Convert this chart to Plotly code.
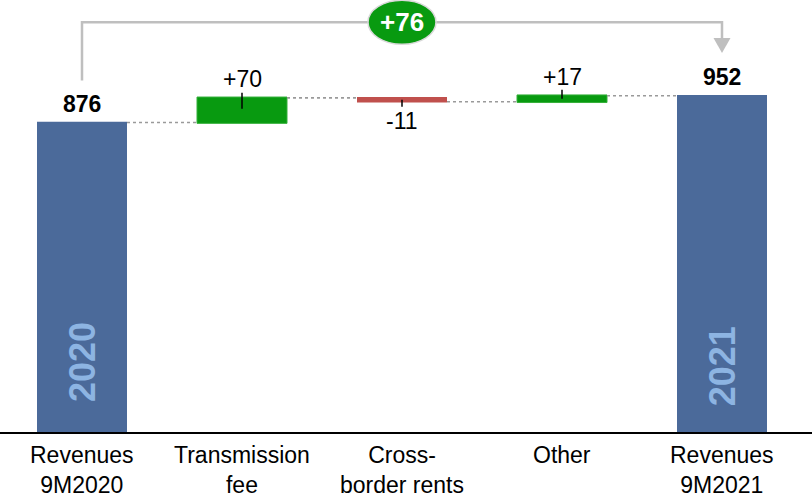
import plotly.graph_objects as go

# Revenue bridge, 9M2020 -> 9M2021
categories = ["Revenues<br>9M2020", "Transmission<br>fee", "Cross-<br>border rents", "Other", "Revenues<br>9M2021"]
measures = ["absolute", "relative", "relative", "relative", "total"]
values = [876, 70, -11, 17, 952]
year_labels = ["2020", "2021"]

FONT = "Liberation Sans, Arial, sans-serif"
BLUE = "#4B6A9A"
GREEN = "#089A10"
RED = "#C0504D"
GRAY = "#BFBFBF"

x_idx = list(range(len(categories)))

fig = go.Figure()
fig.add_trace(go.Waterfall(
    x=x_idx,
    y=values,
    measure=measures,
    width=0.5625,
    increasing=dict(marker=dict(color=GREEN, line=dict(color="#35B03A", width=1))),
    decreasing=dict(marker=dict(color=RED, line=dict(color=RED, width=0))),
    totals=dict(marker=dict(color=BLUE, line=dict(color=BLUE, width=0))),
    connector=dict(mode="between", line=dict(color="#9A9A9A", width=1.6, dash="dot")),
    hoverinfo="skip",
    showlegend=False,
))

# running totals for label placement
ends, starts = [], []
running = 0
for m, v in zip(measures, values):
    if m == "absolute":
        starts.append(0); running = v; ends.append(v)
    elif m == "total":
        starts.append(0); ends.append(running)
    else:
        starts.append(running); running += v; ends.append(running)

annotations = []
shapes = []

# value labels and small tick marks
tick_offsets = {1: (5, -11), 2: (2, -5), 3: (6, -3)}
for i, (m, v) in enumerate(zip(measures, values)):
    top = max(starts[i], ends[i])
    bottom = min(starts[i], ends[i])
    if m in ("absolute", "total"):
        annotations.append(dict(x=i, y=ends[i], text=f"{ends[i]}", showarrow=False,
                                yshift=19, yanchor="middle",
                                font=dict(family=FONT, size=23, color="black", weight=700)))
    else:
        label = f"{v:+d}"
        if v >= 0:
            anchor, shift = top, 19
        else:
            anchor, shift = bottom, -19
        annotations.append(dict(x=i, y=anchor, text=label, showarrow=False,
                                yshift=shift, yanchor="middle",
                                font=dict(family=FONT, size=23, color="black")))
        a, b = tick_offsets[i]
        shapes.append(dict(type="line", xref="x", yref="y", x0=i, x1=i,
                           ysizemode="pixel", yanchor=anchor, y0=a, y1=b,
                           line=dict(color="black", width=1.5)))

# year labels inside the total bars
for i, txt, yv in [(0, year_labels[0], 198), (4, year_labels[1], 186)]:
    annotations.append(dict(x=i, y=yv, text=txt, showarrow=False, textangle=-90,
                            font=dict(family=FONT, size=36, color="#8DB4E2", weight=800)))

# category labels under the axis
for i, c in enumerate(categories):
    annotations.append(dict(x=i, y=0, yref="paper", text=c, showarrow=False,
                            yanchor="top", yshift=-8,
                            font=dict(family=FONT, size=23, color="black")))

# bracket with total change
bracket_y = 1160
shapes.append(dict(type="path", xref="x", yref="y",
                   path=f"M 0,{ends[0] + 119} L 0,{bracket_y} L 4,{bracket_y} L 4,1115",
                   line=dict(color=GRAY, width=2.5)))
shapes.append(dict(type="path", xref="x", yref="y", xsizemode="pixel", ysizemode="pixel",
                   xanchor=4, yanchor=1073, path="M -8.5,15 L 8.5,15 L 0,0 Z",
                   fillcolor=GRAY, line=dict(color=GRAY, width=0)))
shapes.append(dict(type="circle", xref="x", yref="y", xsizemode="pixel", ysizemode="pixel",
                   xanchor=2, yanchor=bracket_y, x0=-34, x1=34, y0=-22, y1=22,
                   fillcolor=GREEN, line=dict(color="#D9D9D9", width=1.5)))
delta = ends[-1] - ends[0]
annotations.append(dict(x=2, y=bracket_y, text=f"{delta:+d}", showarrow=False,
                        font=dict(family=FONT, size=26, color="white", weight=700)))

fig.update_layout(
    width=812, height=498,
    margin=dict(l=0, r=0, t=0, b=66),
    paper_bgcolor="white", plot_bgcolor="white",
    xaxis=dict(range=[-0.5125, 4.5625], showticklabels=False, showgrid=False, zeroline=False,
               showline=True, linecolor="black", linewidth=2, ticks=""),
    yaxis=dict(range=[0, 1223], visible=False, showgrid=False, zeroline=False),
    annotations=annotations,
    shapes=shapes,
)

fig.write_html("out.html")
